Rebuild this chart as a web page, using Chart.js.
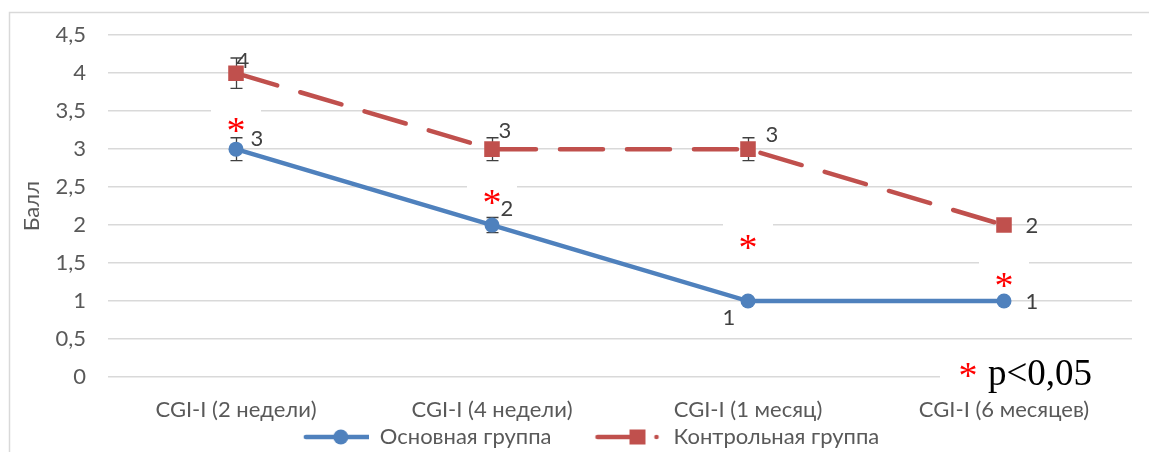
<!DOCTYPE html>
<html><head><meta charset="utf-8">
<script src="https://cdn.jsdelivr.net/npm/chart.js@4.4.0/dist/chart.umd.min.js"></script>
<style>html,body{margin:0;padding:0;background:#fff;overflow:hidden}</style>
</head><body>
<canvas id="c" width="1149" height="452" style="display:block;width:1149px;height:452px"></canvas>
<script>
// ---- data ----
const categories = ['CGI-I (2 недели)', 'CGI-I (4 недели)', 'CGI-I (1 месяц)', 'CGI-I (6 месяцев)'];
const mainValues = [3, 2, 1, 1];
const controlValues = [4, 3, 3, 2];
const mainErrors = [0.15, 0.1, 0, 0];
const controlErrors = [0.2, 0.15, 0.15, 0];
const significanceLevels = [3.35, 2.4, 1.8, 1.3];
const yTickValues = [0, 0.5, 1, 1.5, 2, 2.5, 3, 3.5, 4, 4.5];
const seriesNames = ['Основная группа', 'Контрольная группа'];
const yTitle = 'Балл';
const noteText = 'p<0,05';

// ---- styles ----
const BLUE = '#4f81bd', RED = '#c0504d', GRAY = '#595959', DARK = '#404040', GRID = '#d9d9d9';
const FONT = 'Lato';
const AXIS_SIZE = 22;
const STAR_SHIFT = 10;
// label offsets (px) for [main, control] datasets
const labelOffsets = [
  [[21, -10], [15, -16], [-19, 17], [28, 1]],
  [[7, -12], [13, -18], [24, -14], [28, 1]]
];

const ICON_BLANK = 40, ICON_W = 107;
function legendIcon(color, kind) {
  const c = document.createElement('canvas');
  c.width = ICON_W; c.height = 20;
  const g = c.getContext('2d');
  const L = ICON_BLANK;
  g.strokeStyle = color; g.fillStyle = color; g.lineWidth = 4.5; g.lineCap = 'round';
  if (kind === 'circle') {
    g.beginPath(); g.moveTo(L + 4, 10); g.lineTo(L + 71, 10); g.stroke();
    g.beginPath(); g.arc(L + 39, 10, 7.5, 0, Math.PI * 2); g.fill();
  } else {
    g.beginPath(); g.moveTo(L + 2, 10); g.lineTo(L + 44, 10); g.stroke();
    g.fillRect(L + 34, 2.5, 16, 15);
    g.beginPath(); g.arc(L + 61, 10, 2.3, 0, Math.PI * 2); g.fill();
  }
  return c;
}
const icons = [legendIcon(BLUE, 'circle'), legendIcon(RED, 'rect')];

const decorPlugin = {
  id: 'decor',
  beforeDraw(chart) {
    const ctx = chart.ctx;
    ctx.save();
    ctx.fillStyle = '#fff'; ctx.fillRect(0, 0, chart.width, chart.height);
    ctx.strokeStyle = GRID; ctx.lineWidth = 1.5;
    ctx.strokeRect(9.5, 12.5, 1300, 600);
    ctx.restore();
  },
  beforeDatasetsDraw(chart) {
    const ctx = chart.ctx, xs = chart.scales.x, ys = chart.scales.y, a = chart.chartArea;
    ctx.save();
    ctx.font = '38px "Liberation Serif"';
    ctx.textBaseline = 'middle';
    significanceLevels.forEach((v, i) => {
      const x = xs.getPixelForValue(i), y = ys.getPixelForValue(v);
      ctx.fillStyle = '#fff'; ctx.fillRect(x - 25, y - 19, 50, 38);
      ctx.fillStyle = '#ff0000'; ctx.textAlign = 'center';
      ctx.fillText('*', x, y + STAR_SHIFT);
    });
    // note box
    ctx.fillStyle = '#fff'; ctx.fillRect(a.right - 192, a.bottom - 26, 192, 46);
    ctx.fillStyle = '#ff0000'; ctx.textAlign = 'center';
    ctx.fillText('*', a.right - 164, a.bottom - 9 + STAR_SHIFT);
    ctx.fillStyle = '#000'; ctx.textAlign = 'left'; ctx.textBaseline = 'alphabetic';
    ctx.font = '37px "Liberation Serif"';
    ctx.fillText(noteText, a.right - 144, a.bottom + 8);
    // error bars
    ctx.strokeStyle = DARK; ctx.lineWidth = 1.3;
    [[mainValues, mainErrors], [controlValues, controlErrors]].forEach(([vals, errs]) => {
      vals.forEach((v, i) => {
        if (!errs[i]) return;
        const x = Math.round(xs.getPixelForValue(i)) + 0.5;
        const y1 = ys.getPixelForValue(v + errs[i]), y2 = ys.getPixelForValue(v - errs[i]);
        ctx.beginPath();
        ctx.moveTo(x, y1); ctx.lineTo(x, y2);
        ctx.moveTo(x - 6, y1); ctx.lineTo(x + 6, y1);
        ctx.moveTo(x - 6, y2); ctx.lineTo(x + 6, y2);
        ctx.stroke();
      });
    });
    ctx.restore();
  },
  afterDatasetsDraw(chart) {
    const ctx = chart.ctx, xs = chart.scales.x, ys = chart.scales.y;
    ctx.save();
    ctx.font = '22px ' + FONT; ctx.fillStyle = DARK;
    ctx.textAlign = 'center'; ctx.textBaseline = 'middle';
    [mainValues, controlValues].forEach((vals, d) => {
      vals.forEach((v, i) => {
        const o = labelOffsets[d][i];
        ctx.fillText(String(v), xs.getPixelForValue(i) + o[0], ys.getPixelForValue(v) + o[1]);
      });
    });
    ctx.restore();
  }
};

new Chart(document.getElementById('c'), {
  type: 'line',
  data: {
    labels: categories,
    datasets: [
      { label: seriesNames[0], data: mainValues, borderColor: BLUE, backgroundColor: BLUE,
        borderWidth: 4.5, pointStyle: 'circle', pointRadius: 7.5, pointHoverRadius: 7.5,
        pointBackgroundColor: BLUE, pointBorderWidth: 0, tension: 0, borderCapStyle: 'round' },
      { label: seriesNames[1], data: controlValues, borderColor: RED, backgroundColor: RED,
        borderWidth: 4.5, borderDash: [43, 24], borderCapStyle: 'round',
        pointStyle: 'rect', pointRadius: 11, pointHoverRadius: 11,
        pointBackgroundColor: RED, pointBorderWidth: 0, tension: 0 }
    ]
  },
  options: {
    responsive: false, animation: false, devicePixelRatio: 1,
    layout: { padding: { left: 9, right: 17, top: 34, bottom: -6 } },
    plugins: {
      tooltip: { enabled: false },
      legend: {
        position: 'bottom',
        labels: {
          font: { family: FONT, size: AXIS_SIZE }, color: GRAY, usePointStyle: true,
          pointStyleWidth: ICON_W, boxHeight: AXIS_SIZE, padding: 4,
          generateLabels: (chart) => chart.data.datasets.map((ds, i) => ({
            text: ds.label, pointStyle: icons[i], fillStyle: ds.borderColor,
            strokeStyle: ds.borderColor, lineWidth: 0, datasetIndex: i, fontColor: GRAY
          }))
        }
      }
    },
    scales: {
      x: {
        type: 'category', offset: true,
        grid: { display: false, drawTicks: false }, border: { display: false },
        ticks: { font: { family: FONT, size: AXIS_SIZE }, color: GRAY, padding: 20 },
        afterFit: (s) => { s.height = 45; }
      },
      y: {
        min: 0, max: 4.5,
        afterBuildTicks: (s) => { s.ticks = yTickValues.map(v => ({ value: v })); },
        grid: { color: GRID, lineWidth: 1.5, drawTicks: false }, border: { display: false },
        ticks: { font: { family: FONT, size: AXIS_SIZE }, color: GRAY, padding: 22,
          callback: (v) => String(v).replace('.', ',') },
        title: { display: true, text: yTitle, font: { family: FONT, size: AXIS_SIZE }, color: GRAY,
          padding: { top: 10, bottom: 0 } },
        afterFit: (s) => { s.width = 99; }
      }
    }
  },
  plugins: [decorPlugin]
});
</script>
</body></html>
